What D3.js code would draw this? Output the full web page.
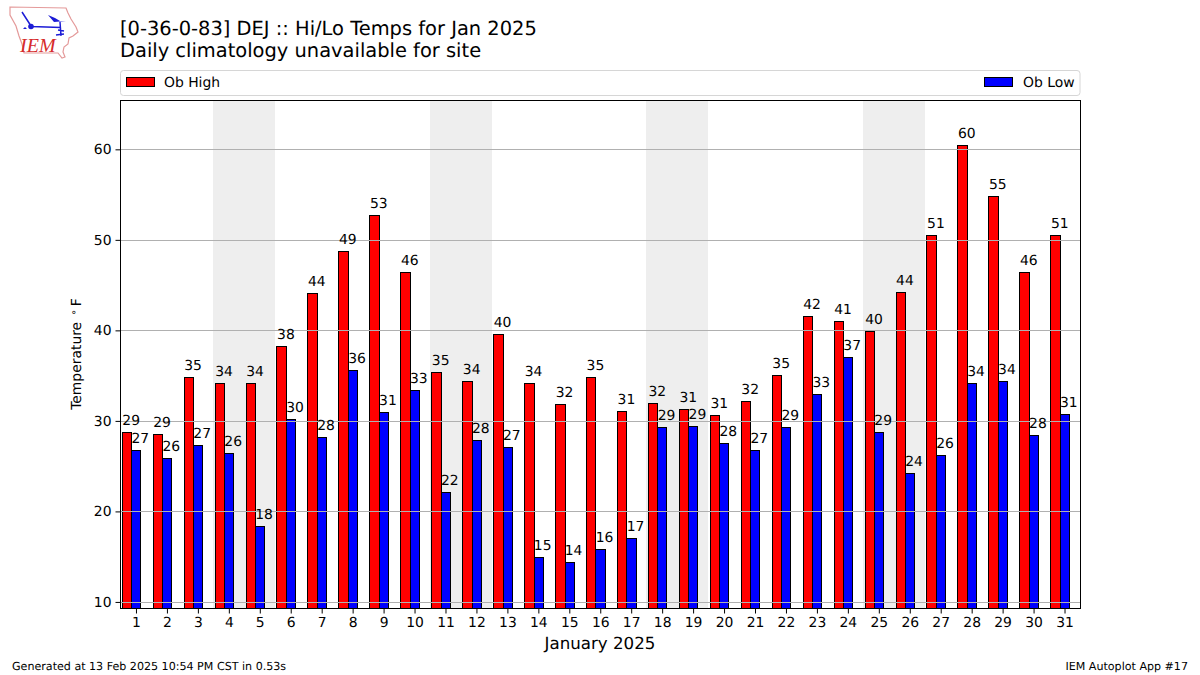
<!DOCTYPE html>
<html><head><meta charset="utf-8">
<script src="https://cdn.jsdelivr.net/npm/d3@7"></script>
<style>html,body{margin:0;background:#fff}svg{display:block}text{font-family:"DejaVu Sans",sans-serif;fill:#000;text-rendering:geometricPrecision}</style>
</head><body><div id="c"></div>
<script>
const days=d3.range(1,32);
const highs=[28.8,28.5,34.9,34.2,34.2,38.3,44.1,48.8,52.8,46.4,35.4,34.4,39.6,34.2,31.9,34.9,31.1,32.0,31.3,30.6,32.2,35.1,41.6,41.0,39.9,44.2,50.5,60.49,54.8,46.4,50.5];
const lows=[26.8,25.9,27.3,26.4,18.4,30.2,28.2,35.6,31.0,33.4,22.2,27.9,27.1,15.0,14.4,15.9,17.1,29.3,29.49,27.6,26.8,29.3,33.0,37.1,28.8,24.2,26.2,34.2,34.4,28.49,30.8];
const weekendStarts=[4,11,18,25];
const yTicks=[10,20,30,40,50,60];
const titleLines=["[0-36-0-83] DEJ :: Hi/Lo Temps for Jan 2025","Daily climatology unavailable for site"];
const W=1200,H=675,L=120.5,R=1080.5,T=100.5,B=608.5;
const svg=d3.select("#c").append("svg").attr("width",W).attr("height",H);
const x=d3.scaleLinear().domain([0.5,31.5]).range([120.5,1080]);
const y=d3.scaleLinear().domain([9.33,65.45]).range([608,100]);

// logo
const logo=svg.append("g");
logo.append("path").attr("d","M10,7 L66,8 L68,13 L71,19 L76,27 L78,32 L73,36 L69,38 L68,44 L64,47 L63,52 L65,57 L62,58 L58,53 L24,53 L22,44 L19,36 L16,26 L10,15 Z")
 .attr("fill","none").attr("stroke","#e49a9a").attr("stroke-width",1.2);
logo.append("path").attr("d","M22,12 L31,26 M31,26.5 L61,27.5 M60,22 L61,36 M58,30 L64,31 M56,35 L64,34")
 .attr("fill","none").attr("stroke","#1c1cd6").attr("stroke-width",1.5);
logo.append("path").attr("d","M48,15 L55,18 L60,21 L66,21 L54,22 Z").attr("fill","#1c1cd6");
logo.append("circle").attr("cx",31).attr("cy",26.5).attr("r",2.8).attr("fill","#1c1cd6");
logo.append("path").attr("d","M23,29 L25,27 L27,29 Z").attr("fill","#1c1cd6");
logo.append("text").attr("x",20).attr("y",52).attr("font-size",20).attr("font-style","italic").style("font-family","'Liberation Serif',serif").style("fill","#d62a2a").text("IEM");

// titles
svg.selectAll("text.t").data(titleLines).join("text").attr("class","t")
 .attr("x",120).attr("y",(d,i)=>35+i*22).attr("font-size",19.44).text(d=>d);

// legend
svg.append("rect").attr("x",120.5).attr("y",70.5).attr("width",959.5).attr("height",25).attr("rx",3)
 .attr("fill","#fff").attr("stroke","#d6d6d6").attr("stroke-width",1);
const legendItems=[{n:"Ob High",c:"#ff0000",px:126.5,tx:164},{n:"Ob Low",c:"#0000ff",px:984.5,tx:1023}];
legendItems.forEach(d=>{
 svg.append("rect").attr("x",d.px).attr("y",77.5).attr("width",28).attr("height",9).attr("fill",d.c).attr("stroke","#000").attr("stroke-width",1);
 svg.append("text").attr("x",d.tx).attr("y",86.5).attr("font-size",13.9).text(d.n);
});

// plot
const plot=svg.append("g");
plot.selectAll("rect.w").data(weekendStarts).join("rect").attr("class","w")
 .attr("x",d=>Math.round(x(d-0.5)-0.3)).attr("width",d=>Math.round(x(d+1.5)-0.3)-Math.round(x(d-0.5)-0.3)).attr("y",T).attr("height",B-T).attr("fill","#eeeeee");
const o1=-0.46,o2=-0.155,o3=0.14;
function bars(vals,a,b,cls,c){
 plot.selectAll("rect."+cls).data(vals).join("rect").attr("class",cls)
  .attr("x",(d,i)=>Math.round(x(days[i]+a))+0.5).attr("width",(d,i)=>Math.round(x(days[i]+b))-Math.round(x(days[i]+a)))
  .attr("y",d=>Math.round(y(d))+0.5).attr("height",d=>B-Math.round(y(d))-0.5)
  .attr("fill",c).attr("stroke","#000").attr("stroke-width",1);
}
bars(highs,o1,o2,"bh","#ff0000");
bars(lows,o2,o3,"bl","#0000ff");
plot.selectAll("line.g").data(yTicks).join("line").attr("class","g")
 .attr("x1",L).attr("x2",R).attr("y1",d=>Math.round(y(d))+0.5).attr("y2",d=>Math.round(y(d))+0.5)
 .attr("stroke","#b0b0b0").attr("stroke-width",1);
function labels(vals,cls,off){
 plot.selectAll("text."+cls).data(vals).join("text").attr("class",cls)
  .attr("x",(d,i)=>x(days[i]+off)).attr("y",d=>y(d)-7).attr("text-anchor","middle").attr("font-size",13.9)
  .text(d=>d3.format(".0f")(d));
}
labels(highs,"lh",o2);
labels(lows,"ll",o3);

// frame & axes
svg.append("rect").attr("x",L).attr("y",T).attr("width",R-L).attr("height",B-T).attr("fill","none").attr("stroke","#000").attr("stroke-width",1);
const ax=svg.append("g").attr("transform",`translate(0,${B})`).call(d3.axisBottom(x).tickValues(days).tickSize(5).tickPadding(4).tickFormat(d3.format("d")));
const ay=svg.append("g").attr("transform",`translate(${L},0)`).call(d3.axisLeft(y).tickValues(yTicks).tickSize(5).tickPadding(4).tickFormat(d3.format("d")));
[ax,ay].forEach(a=>{a.select(".domain").remove();a.selectAll("text").attr("font-size",13.9).style("font-family",'"DejaVu Sans",sans-serif');a.selectAll("line").attr("stroke","#000");});
svg.append("text").attr("x",600).attr("y",649).attr("text-anchor","middle").attr("font-size",16.67).text("January 2025");
const yl=svg.append("text").attr("transform","translate(81,354) rotate(-90)").attr("text-anchor","middle").attr("font-size",13.9);
yl.append("tspan").text("Temperature ");
yl.append("tspan").attr("font-size",10).attr("dy",-4).attr("dx",2).text("∘");
yl.append("tspan").attr("dy",4).attr("dx",3).text("F");
svg.append("text").attr("x",12).attr("y",670).attr("font-size",11.1).text("Generated at 13 Feb 2025 10:54 PM CST in 0.53s");
svg.append("text").attr("x",1188).attr("y",670).attr("text-anchor","end").attr("font-size",11.1).text("IEM Autoplot App #17");
</script></body></html>
